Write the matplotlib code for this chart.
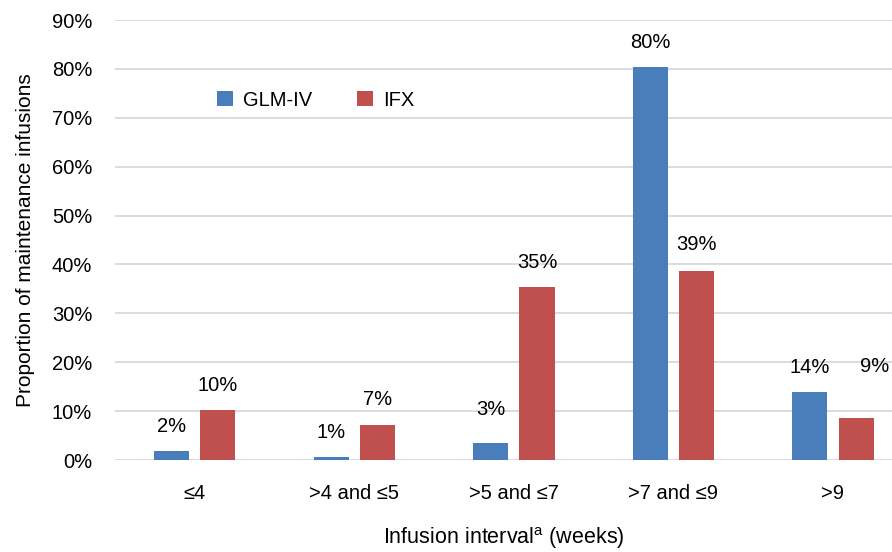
import matplotlib
matplotlib.use("Agg")
import matplotlib.pyplot as plt
import numpy as np

categories = ["≤4", ">4 and ≤5", ">5 and ≤7", ">7 and ≤9", ">9"]
glm_iv = [1.8, 0.6, 3.5, 80.3, 13.9]
ifx = [10.2, 7.2, 35.3, 38.7, 8.6]
glm_labels = ["2%", "1%", "3%", "80%", "14%"]
ifx_labels = ["10%", "7%", "35%", "39%", "9%"]

plt.rcParams['font.family'] = ['Liberation Sans', 'DejaVu Sans']
plt.rcParams['mathtext.fontset'] = 'custom'
plt.rcParams['mathtext.rm'] = 'Liberation Sans'

blue = '#4a7ebb'
red = '#c0504d'
fs = 14.5

fig = plt.figure(figsize=(8.92, 5.52), dpi=100)
ax = fig.add_axes([115 / 892, 1 - 460 / 552, 1 - 115 / 892, 440 / 552])

x = np.arange(len(categories))
w = 0.22
off = 0.145
ax.bar(x - off, glm_iv, w, color=blue, label='GLM-IV', zorder=3)
ax.bar(x + off, ifx, w, color=red, label='IFX', zorder=3)

# value labels (lift in points above the bar top)
glm_lift = [18, 18, 24, 18, 18]
ifx_lift = [18, 18, 18, 19, 37]
ifx_dx = [0, 0, 0, 0, 13]
for i in range(len(categories)):
    ax.annotate(glm_labels[i], (x[i] - off, glm_iv[i]), xytext=(0, glm_lift[i]),
                textcoords='offset points', ha='center', va='center', fontsize=fs)
    ax.annotate(ifx_labels[i], (x[i] + off, ifx[i]), xytext=(ifx_dx[i], ifx_lift[i]),
                textcoords='offset points', ha='center', va='center', fontsize=fs)

ax.set_xlim(-0.5, 4.37)
ax.set_ylim(0, 90)
ax.set_yticks(np.arange(0, 91, 10))
ax.set_yticklabels(["%d%%" % v for v in range(0, 91, 10)])
ax.set_xticks(x)
ax.set_xticklabels(categories)
ax.tick_params(axis='both', length=0, labelsize=fs)
ax.tick_params(axis='y', pad=16.5)
ax.tick_params(axis='x', pad=17)
ax.grid(axis='y', color='#d9d9d9', linewidth=1.3, zorder=0)
for s in ax.spines.values():
    s.set_visible(False)

ax.set_ylabel("Proportion of maintenance infusions", fontsize=15)
ax.yaxis.set_label_coords(-0.103, 0.5)
ax.set_xlabel("Infusion interval$^{\\mathrm{a}}$ (weeks)", fontsize=15.5, labelpad=16)

ax.legend(loc='center left', bbox_to_anchor=(207 / 892, 1 - 100 / 552),
          bbox_transform=fig.transFigure, ncol=2, frameon=False, fontsize=fs,
          handlelength=0.8, handleheight=0.8, handletextpad=0.5,
          columnspacing=2.2, borderpad=0)

fig.savefig("out.png", dpi=100)
